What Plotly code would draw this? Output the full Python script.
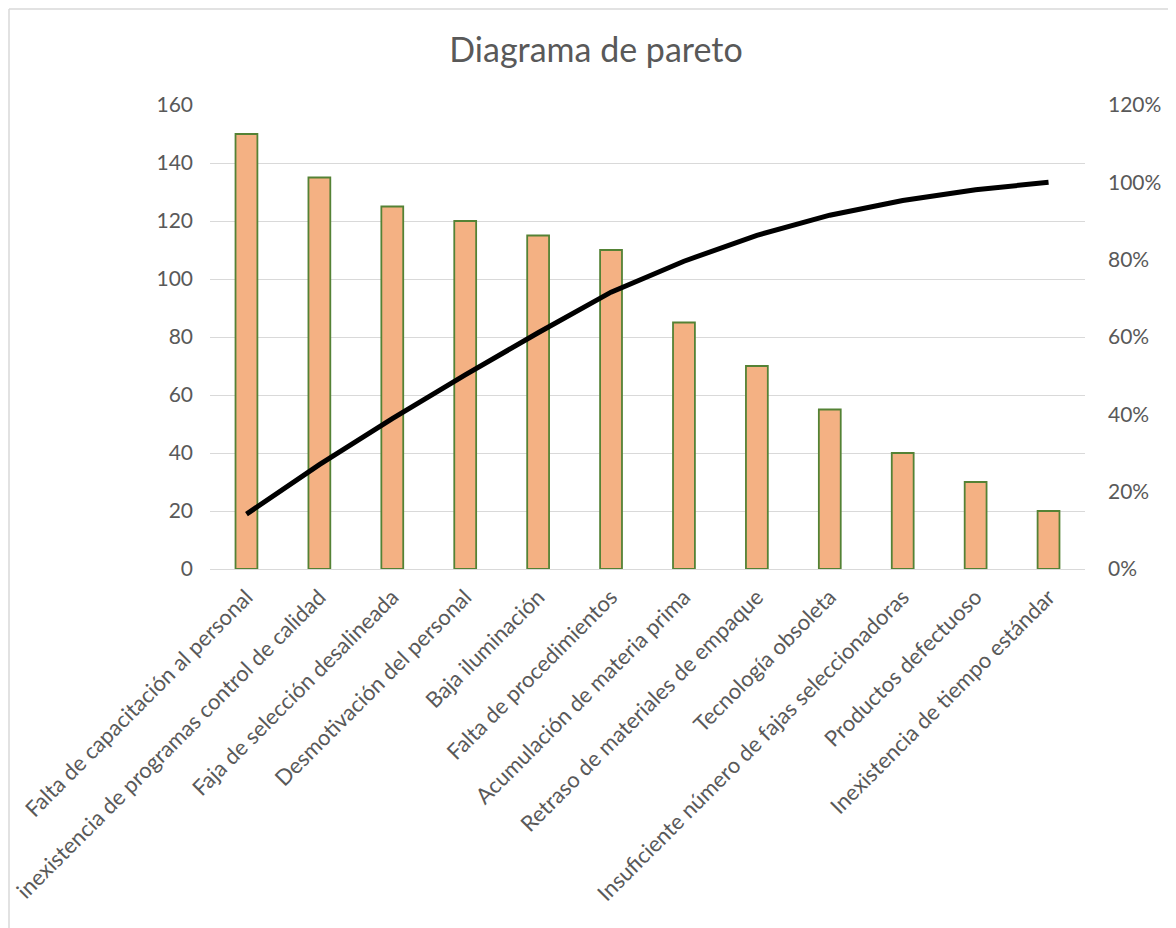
import plotly.graph_objects as go

categories = [
    "Falta de capacitación al personal",
    "inexistencia de programas control de calidad",
    "Faja de selección desalineada",
    "Desmotivación del personal",
    "Baja iluminación",
    "Falta de procedimientos",
    "Acumulación de materia prima",
    "Retraso de materiales de empaque",
    "Tecnología obsoleta",
    "Insuficiente número de fajas seleccionadoras",
    "Productos defectuoso",
    "Inexistencia de tiempo estándar",
]
frequency = [150, 135, 125, 120, 115, 110, 85, 70, 55, 40, 30, 20]
cumulative_pct = [0.142, 0.270, 0.389, 0.502, 0.611, 0.716, 0.796, 0.863, 0.915, 0.953, 0.981, 1.000]

left_ticks = [0, 20, 40, 60, 80, 100, 120, 140, 160]
right_ticks = [0, 0.2, 0.4, 0.6, 0.8, 1.0, 1.2]

FONT = "Lato"
GREY = "#595959"

# page has an 8px body margin; figure coordinates = page coordinates - 8
OFF = 8
W, H = 1176, 928
ML, MT = 210 - OFF, 105 - OFF
PW, PH = 875, 464
MR = W - ML - PW
MB = H - MT - PH


def fx(p):
    return (p - ML) / PW


def fy(p):
    return (H - MB - p) / PH


fig = go.Figure()
fig.add_trace(go.Bar(
    x=categories, y=frequency, width=0.3,
    marker=dict(color="#F4B183", line=dict(color="#548235", width=1.8)),
    showlegend=False, yaxis="y",
))
fig.add_trace(go.Scatter(
    x=categories, y=cumulative_pct, mode="lines",
    line=dict(color="black", width=5),
    showlegend=False, yaxis="y2",
))

fig.update_layout(
    width=W, height=H,
    margin=dict(l=ML, r=MR, t=MT, b=MB, autoexpand=False),
    paper_bgcolor="white", plot_bgcolor="white",
    font=dict(family=FONT, color=GREY, size=21),
    title=dict(text="Diagrama de pareto", x=0.5, xanchor="center",
               y=1 - (50 - OFF) / H, yanchor="middle",
               font=dict(family=FONT, size=34, color=GREY)),
    xaxis=dict(type="category", tickangle=-45, showgrid=False,
               showline=False, ticks="", tickfont=dict(size=22, color=GREY),
               ticklabelstandoff=10, automargin=False),
    yaxis=dict(range=[0, 160], tickvals=left_ticks, showgrid=True,
               gridcolor="#D9D9D9", gridwidth=1, zeroline=True,
               zerolinecolor="#D9D9D9", zerolinewidth=1, showline=False,
               ticks="", tickfont=dict(size=21, color=GREY),
               ticklabelstandoff=16, automargin=False),
    yaxis2=dict(range=[0, 1.2], tickvals=right_ticks, tickformat=".0%",
                overlaying="y", side="right", showgrid=False, zeroline=False,
                showline=False, ticks="", tickfont=dict(size=21, color=GREY),
                ticklabelstandoff=22, automargin=False),
    bargap=0.7,
    shapes=[
        dict(type="line", xref="paper", yref="paper",
             x0=fx(1), x1=fx(1), y0=fy(1), y1=fy(H + 5),
             line=dict(color="#D9D9D9", width=1.5)),
        dict(type="line", xref="paper", yref="paper",
             x0=fx(1), x1=fx(W + 5), y0=fy(1), y1=fy(1),
             line=dict(color="#D9D9D9", width=1.5)),
    ],
)

fig.write_html("out.html")
